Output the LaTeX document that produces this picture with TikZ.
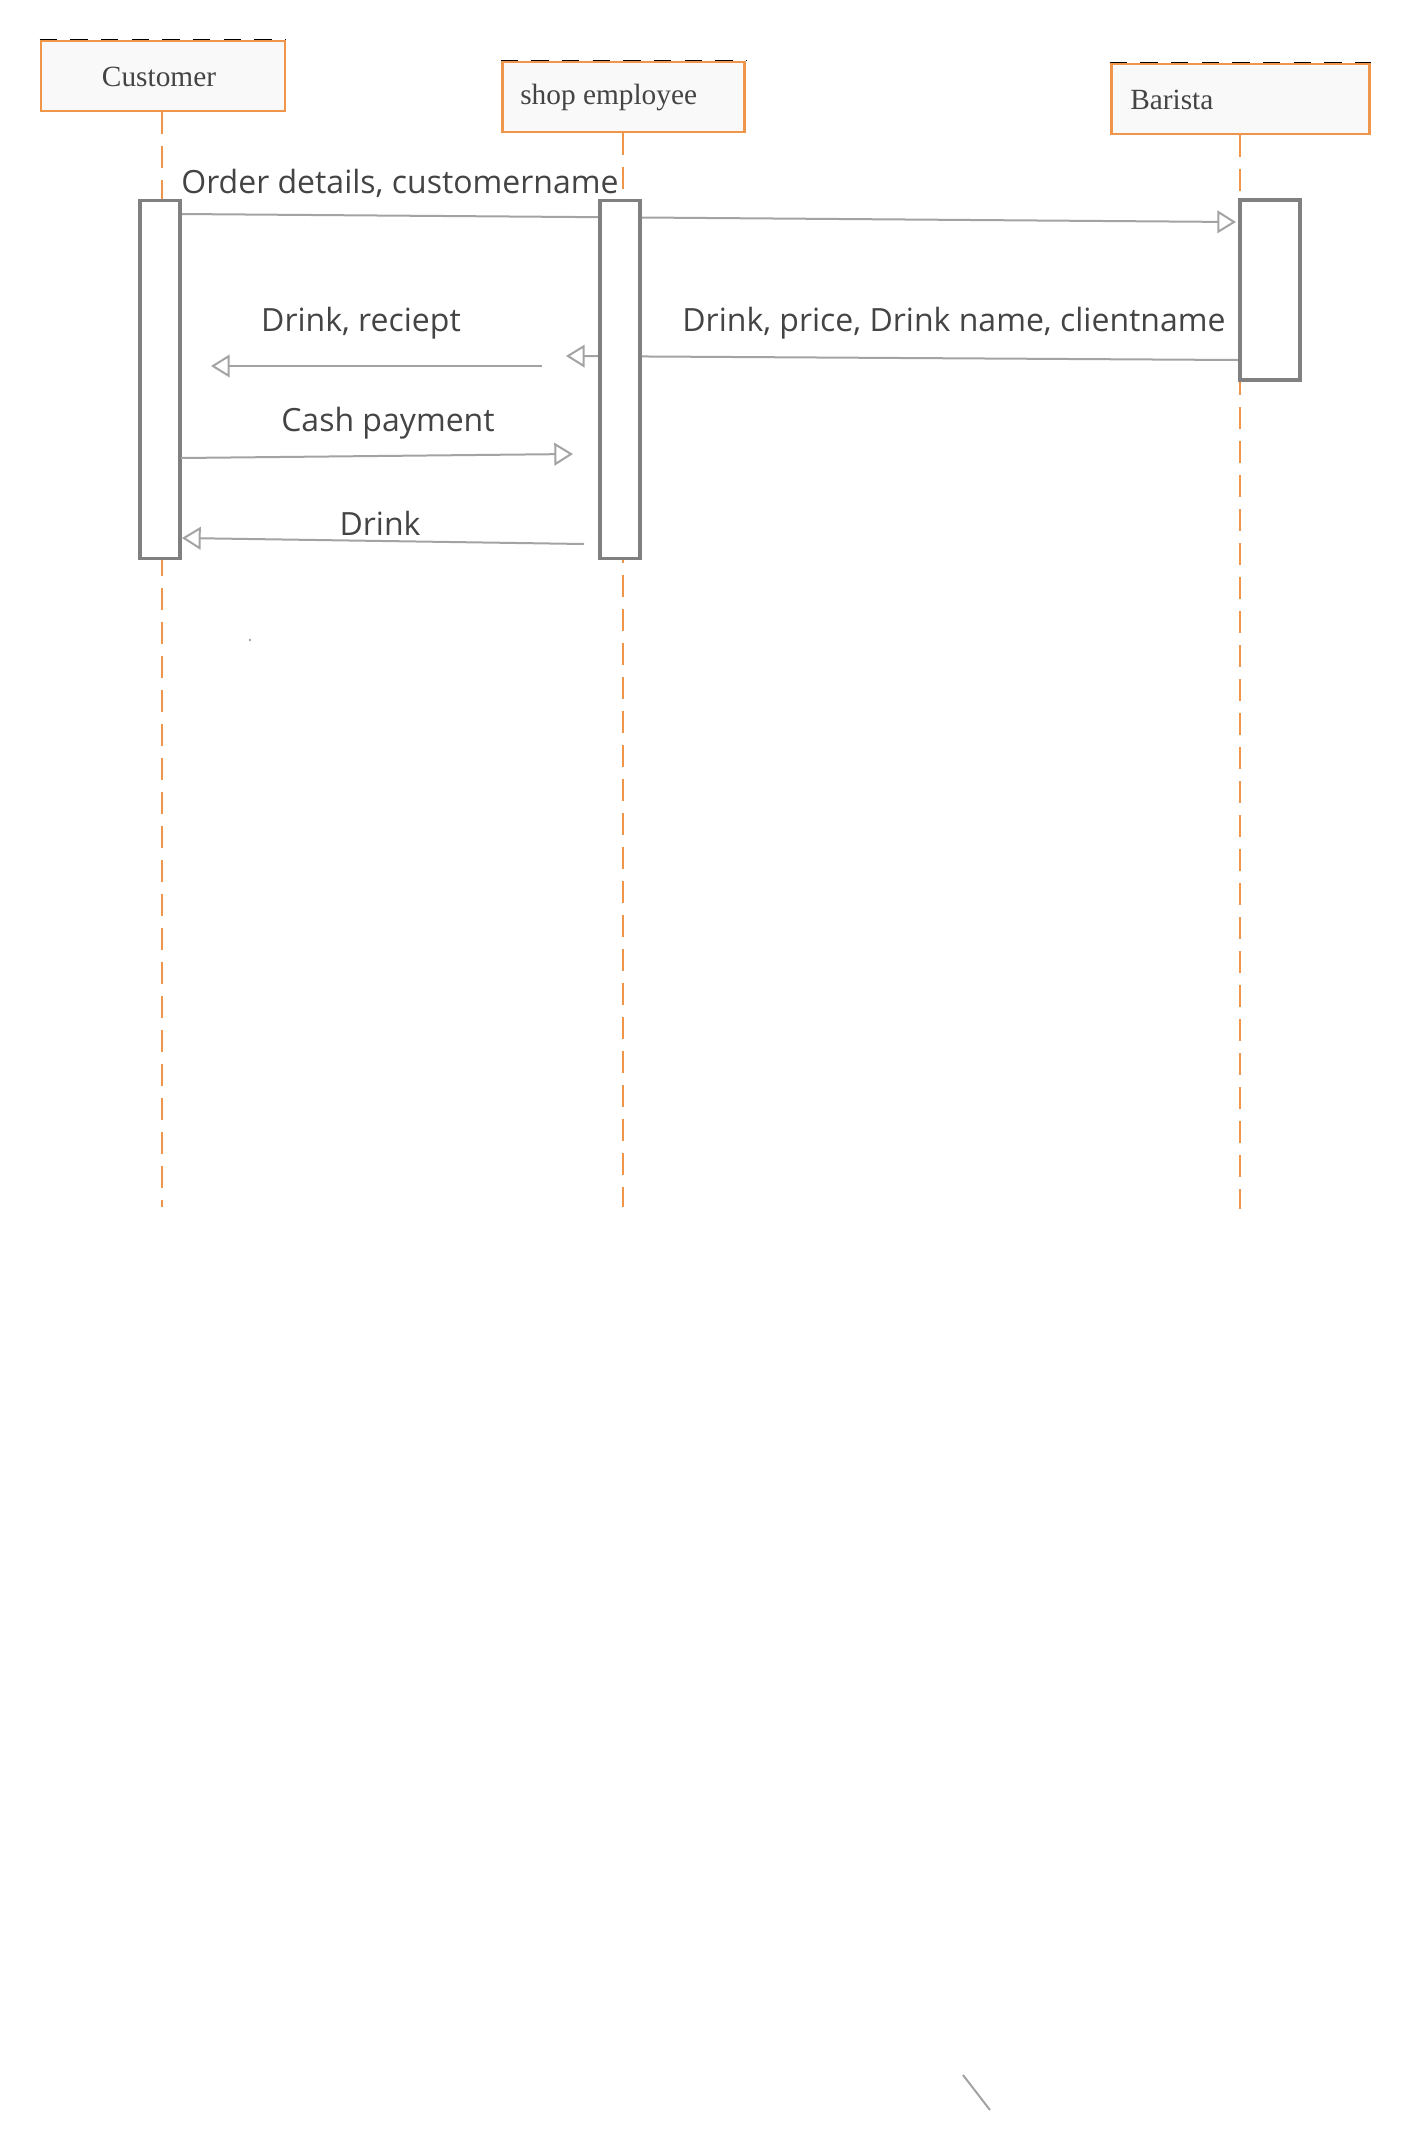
\documentclass[tikz,border=0pt]{standalone}
\usepackage{fontspec}
\setmainfont{Liberation Serif}
\newfontfamily\msgfont{Open Sans}
\usetikzlibrary{arrows.meta, positioning, backgrounds}
\definecolor{lineorange}{HTML}{F0964A}
\definecolor{boxfill}{HTML}{F9F9F9}
\definecolor{actgray}{HTML}{808080}
\definecolor{msggray}{HTML}{A3A3A3}
\definecolor{textgray}{HTML}{444444}
\tikzset{
    actor/.style={draw=lineorange, fill=boxfill, rectangle, line width=2.2pt, inner sep=0pt, minimum height=52.5pt},
    actorlabel/.style={font=\fontsize{22}{26}\selectfont, text=textgray, inner sep=0pt},
    topdash/.style={draw=black, line width=0.9pt, dash pattern=on 13pt off 10pt},
    activation/.style={draw=actgray, fill=white, rectangle, line width=2.4pt, inner sep=0pt, minimum width=30pt, minimum height=269pt},
    lifeline/.style={draw=lineorange, line width=2.2pt, dash pattern=on 16.5pt off 9pt},
    msg/.style={draw=msggray, line width=1.5pt, -{Triangle[open, length=14pt, width=17pt]}},
    msglabel/.style={font=\msgfont\fontsize{24}{28}\selectfont, text=textgray, inner sep=0pt}
}

\begin{document}
\begin{tikzpicture}[x=0.75pt, y=-0.75pt]
        \useasboundingbox (0,0) rectangle (1411,2150);

        % -----------------------------------------------------------------
        % ATTORI
        % -----------------------------------------------------------------
        \node[actor, minimum width=183pt] (cust) at (163,76) {};
        \node[actorlabel] (custlabel) at (159,77) {Customer};
        \draw[topdash] (cust.north west) -- (cust.north east);

        \node[actor, minimum width=182pt] (emp) at (623.5,97) {};
        \node[actorlabel, anchor=west] (emplabel) at (520,97) {shop employee};
        \draw[topdash] (emp.north west) -- (emp.north east);

        \node[actor, minimum width=194pt] (bar) at (1240.5,99) {};
        \node[actorlabel, anchor=west] (barlabel) at (1130,100) {Barista};
        \draw[topdash] (bar.north west) -- (bar.north east);

        % -----------------------------------------------------------------
        % ATTIVAZIONI
        % -----------------------------------------------------------------
        \node[activation] (custact) at (160,379.5) {};
        \node[activation] (empact) at (620,379.5) {};
        \node[activation, minimum width=45pt, minimum height=135pt] (baract) at (1270,290) {};

        % -----------------------------------------------------------------
        % LINEE DI VITA E MESSAGGI
        % -----------------------------------------------------------------
        \coordinate (custend) at (162,1207);
        \coordinate (empend) at (623,1207);
        \coordinate (barend) at (1240,1209);

        \coordinate (ordS) at (180,214);
        \coordinate (ordE) at (1236,222);
        \coordinate (drinkS) at (1238,360);
        \coordinate (drinkE) at (566,356);
        \coordinate (recS) at (542,366);
        \coordinate (recE) at (211,366);
        \coordinate (cashS) at (181,458);
        \coordinate (cashE) at (573,454);
        \coordinate (backS) at (584,544);
        \coordinate (backE) at (182,538);

        \begin{scope}[on background layer]
            \draw[lifeline] (cust.south -| custend) -- (custend);
            \draw[lifeline] (emp.south -| empend) -- (empend);
            \draw[lifeline] (bar.south -| barend) -- (barend);

            \draw[msg] (ordS) -- (ordE);
            \draw[msg] (drinkS) -- (drinkE);
        \end{scope}

        \draw[msg] (recS) -- (recE);
        \draw[msg] (cashS) -- (cashE);
        \draw[msg] (backS) -- (backE);

        \node[msglabel] (ordlabel) at (400,183) {Order details, customername};
        \node[msglabel] (drinklabel) at (954,323) {Drink, price, Drink name, clientname};
        \node[msglabel] (reclabel) at (361,323) {Drink, reciept};
        \node[msglabel] (cashlabel) at (388,423) {Cash payment};
        \node[msglabel] (backlabel) at (380,523) {Drink};

        % segni sparsi
        \fill[msggray] (250,640) circle (1.1pt);
        \draw[msggray, line width=1.5pt] (963,2075) -- (990,2110);

    \end{tikzpicture}
\end{document}
